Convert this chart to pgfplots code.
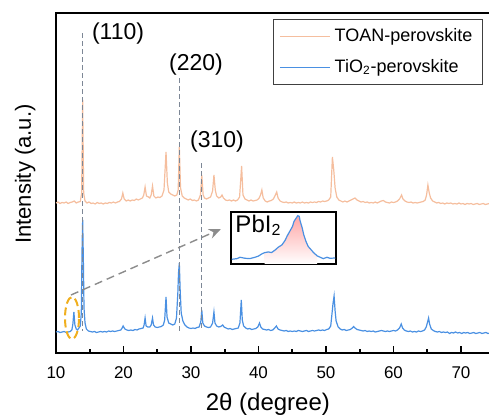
\documentclass[border=0pt]{standalone}
\usepackage{fontspec}
\setmainfont{Liberation Sans}
\usepackage{pgfplots}
\pgfplotsset{compat=1.18}
\usetikzlibrary{arrows.meta}
\definecolor{toan}{RGB}{245,190,158}
\definecolor{tio}{RGB}{74,144,226}
\definecolor{vgray}{RGB}{125,135,150}
\definecolor{agray}{RGB}{140,140,140}
\definecolor{ell}{RGB}{240,175,30}
\begin{document}
\begin{tikzpicture}
\begin{axis}[
  scale only axis, width=219.375pt, height=170pt,
  xmin=10, xmax=75, ymin=0, ymax=340,
  axis line style={line width=0.8pt},
  xtick={10,20,30,40,50,60,70}, minor x tick num=1,
  xtick pos=left, ytick=\empty,
  tick align=inside, major tick length=3.5pt, minor tick length=2pt,
  every tick/.style={black, line width=0.8pt},
  /pgf/number format/assume math mode=true,
  ticklabel style={font=\fontsize{8.5}{10}\selectfont},
  xticklabel style={yshift=-3.5pt},
  xlabel={2θ (degree)}, ylabel={Intensity (a.u.)},
  xlabel style={at={(axis description cs:0.483,-0.15)}, anchor=center, font=\fontsize{12}{14}\selectfont},
  ylabel style={at={(axis description cs:-0.07,0.526)}, anchor=center, rotate=0, font=\fontsize{11}{13}\selectfont},
  legend style={at={(axis description cs:0.973,0.982)}, anchor=north east, draw=black!75, line width=0.5pt,
    font=\fontsize{9}{10}\selectfont, cells={anchor=west}, row sep=3.5pt, inner xsep=3pt, inner ysep=2.5pt},
  legend image code/.code={\draw[#1, line width=0.7pt] (0pt,0pt) -- (25pt,0pt);},
]
\addplot[toan, line width=0.6pt] coordinates {
(10.0,150)(10.3,151)(10.6,149.5)(10.9,150.5)(11.2,150)(11.5,151)(11.8,149.5)(12.1,150.5)(12.4,151)(12.7,152)
(13.0,150)(13.3,151)(13.6,151.5)(13.8,160)(13.95,253)(14.1,160)(14.3,152)(14.6,150)(14.9,151)(15.2,149.5)
(15.5,150)(15.8,149)(16.1,150.5)(16.4,149.5)(16.7,150)(17.0,149)(17.3,150)(17.6,149.5)(17.9,150.5)(18.2,150)
(18.5,151)(18.8,150)(19.1,151)(19.4,151.5)(19.7,154)(19.9,160)(20.1,154)(20.4,152)(20.7,153)(21.0,152)
(21.3,153)(21.6,152.5)(21.9,154)(22.2,153)(22.5,154)(22.8,155)(23.0,158)(23.2,166)(23.4,157)(23.7,156)
(23.9,155)(24.1,158)(24.3,167)(24.5,157)(24.8,155)(25.1,156)(25.4,155.5)(25.7,157)(26.0,163)(26.3,201)
(26.5,170)(26.7,161)(27.0,159)(27.3,158)(27.6,157)(27.9,158)(28.1,163)(28.27,206)(28.45,165)(28.7,157)
(29.0,155)(29.3,154)(29.6,153)(29.9,154)(30.2,152.5)(30.5,153)(30.8,152)(31.1,153)(31.4,158)(31.6,178)
(31.8,158)(32.0,155)(32.3,154)(32.6,155)(32.9,156)(33.2,162)(33.4,178)(33.6,163)(33.8,157)(34.1,155)
(34.4,156)(34.6,158)(34.8,155)(35.1,153)(35.4,152.5)(35.7,153)(36.0,152)(36.3,153)(36.6,152)(36.9,153)
(37.2,156)(37.5,187)(37.7,158)(38.0,154)(38.3,153)(38.6,152)(38.9,153)(39.2,152)(39.5,152.5)(39.8,153)
(40.1,155)(40.3,158)(40.5,163)(40.7,155)(41.0,152)(41.3,151)(41.6,152)(41.9,152.5)(42.2,154)(42.5,158)
(42.7,161)(42.9,155)(43.2,152)(43.5,151)(43.8,150.5)(44.1,151)(44.4,150)(44.7,150.5)(45.0,150)(45.3,151)
(45.6,150)(45.9,150.5)(46.2,150)(46.5,151)(46.8,150)(47.1,150.5)(47.4,150)(47.7,151)(48.0,150.5)(48.3,151)
(48.6,150.5)(48.9,151.5)(49.2,151)(49.5,152)(49.8,151.5)(50.1,152)(50.4,153)(50.7,156)(50.95,196)(51.15,183)
(51.35,165)(51.6,156)(51.9,153)(52.2,152)(52.5,151)(52.8,152)(53.1,151)(53.4,152)(53.7,153)(54.0,154)
(54.3,155)(54.6,153)(54.9,152)(55.2,151)(55.5,151.5)(55.8,150.5)(56.1,151)(56.4,150)(56.7,150.5)(57.0,150)
(57.3,151)(57.6,150)(57.9,151)(58.2,152)(58.5,152.5)(58.8,151)(59.1,150.5)(59.4,150)(59.7,151)(60.0,150.5)
(60.3,151)(60.6,152)(60.9,154)(61.2,158)(61.4,154)(61.7,152)(62.0,151)(62.3,150.5)(62.6,151)(62.9,150)
(63.2,150.5)(63.5,150)(63.8,150.5)(64.1,151)(64.4,151.5)(64.7,153)(64.9,158)(65.1,168)(65.3,160)(65.5,155)
(65.8,152)(66.1,151)(66.4,150)(66.7,150.5)(67.0,149.5)(67.3,150)(67.6,149)(67.9,150)(68.2,149.5)(68.5,150)
(68.8,149)(69.1,149.5)(69.4,149)(69.7,150)(70.0,149)(70.3,149.5)(70.6,148.5)(70.9,149.5)(71.2,149)(71.5,149.5)
(71.8,148.5)(72.1,149)(72.4,149.5)(72.7,148.5)(73.0,149)(73.3,149.5)(73.6,148.5)(73.9,149)(74.2,149.5)(74.5,148.5)
(74.8,149)(75.0,149)
};
\addlegendentry{TOAN-perovskite}
\addplot[tio, line width=0.6pt] coordinates {
(10.0,21)(10.3,21.5)(10.6,20.5)(10.9,21)(11.2,21.5)(11.5,20.5)(11.8,21)(12.1,21.5)(12.35,23)(12.5,29)
(12.65,41)(12.8,28)(13.0,24)(13.2,23)(13.4,25)(13.6,27)(13.75,40)(13.85,100)(13.95,133)(14.05,95)
(14.15,45)(14.3,30)(14.5,24)(14.8,22)(15.1,21.5)(15.4,21)(15.7,21.5)(16.0,20.5)(16.3,21)(16.6,21.5)
(16.9,21)(17.2,21.5)(17.5,21)(17.8,22)(18.1,21.5)(18.4,22)(18.7,21.5)(19.0,22)(19.3,22.5)(19.6,23)
(19.8,25)(19.95,27)(20.2,24)(20.5,23)(20.8,22.5)(21.1,23)(21.4,22.5)(21.7,23.5)(22.0,23)(22.3,24)
(22.6,24.5)(22.9,25)(23.05,28)(23.2,35)(23.35,27)(23.6,26)(23.9,26)(24.1,28)(24.3,35)(24.45,28)
(24.7,26)(25.0,25.5)(25.3,26)(25.6,26.5)(25.9,28)(26.1,33)(26.3,56)(26.45,36)(26.7,30)(27.0,29)
(27.3,28)(27.6,29)(27.85,35)(28.05,60)(28.15,80)(28.27,90)(28.4,62)(28.55,40)(28.8,32)(29.1,28)
(29.4,26)(29.7,25)(30.0,24.5)(30.3,25)(30.6,24.5)(30.9,25.5)(31.2,26)(31.45,31)(31.6,43)(31.75,30)
(32.0,27)(32.3,26)(32.6,25.5)(32.9,26)(33.2,30)(33.4,41)(33.55,30)(33.8,27)(34.1,26)(34.4,26.5)
(34.7,28)(34.9,26)(35.2,25)(35.5,24)(35.8,24.5)(36.1,23.5)(36.4,24)(36.7,24.5)(37.0,25)(37.25,30)
(37.45,53)(37.6,33)(37.8,27)(38.1,25)(38.4,24)(38.7,24.5)(39.0,23.5)(39.3,24)(39.6,24.5)(39.9,26)
(40.15,30)(40.35,26)(40.6,24)(40.9,23.5)(41.2,23)(41.5,23.5)(41.8,22.5)(42.1,23)(42.4,25)(42.65,27)
(42.9,24)(43.2,23)(43.5,22.5)(43.8,22)(44.1,22.5)(44.4,21.5)(44.7,22)(45.0,21.5)(45.3,22)(45.6,21.5)
(45.9,22.5)(46.2,22)(46.5,21.5)(46.8,22)(47.1,22.5)(47.4,21.5)(47.7,22)(48.0,22.5)(48.3,22)(48.6,22.5)
(48.9,23)(49.2,22.5)(49.5,23)(49.8,22.5)(50.1,23.5)(50.4,24)(50.7,27)(50.9,40)(51.05,50)(51.2,57)
(51.35,42)(51.5,32)(51.8,26)(52.1,24)(52.4,23)(52.7,23.5)(53.0,22.5)(53.3,23)(53.6,23.5)(53.9,25)
(54.1,26.5)(54.3,25)(54.6,23.5)(54.9,23)(55.2,22.5)(55.5,22)(55.8,22.5)(56.1,21.5)(56.4,22)(56.7,21.5)
(57.0,22)(57.3,21)(57.6,21.5)(57.9,22)(58.2,22.5)(58.5,22)(58.8,21.5)(59.1,22)(59.4,21.5)(59.7,22)
(60.0,22.5)(60.3,22)(60.6,23)(60.9,25)(61.15,29)(61.35,25)(61.6,23)(61.9,22)(62.2,21.5)(62.5,22)
(62.8,21)(63.1,21.5)(63.4,21)(63.7,22)(64.0,21.5)(64.3,22)(64.6,23)(64.85,26)(65.05,31)(65.2,35)
(65.35,29)(65.6,24)(65.9,22.5)(66.2,21.5)(66.5,21)(66.8,21.5)(67.1,20.5)(67.4,21)(67.7,20.5)(68.0,21)
(68.3,19.5)(68.6,20.5)(68.9,20)(69.2,21)(69.5,20)(69.8,20.5)(70.1,19.5)(70.4,20.5)(70.7,20)(71.0,20.5)
(71.3,19.5)(71.6,20)(71.9,20.5)(72.2,19.5)(72.5,20)(72.8,20.5)(73.1,19.5)(73.4,20)(73.7,20.5)(74.0,19.5)
(74.3,20)(74.6,20.5)(75.0,20)
};
\addlegendentry{TiO\textsubscript{2}-perovskite}
% peak guide lines
\draw[vgray, line width=0.6pt, dash pattern=on 2.5pt off 1.5pt] (axis cs:13.95,320) -- (axis cs:13.95,22);
\draw[vgray, line width=0.6pt, dash pattern=on 2.5pt off 1.5pt] (axis cs:28.27,275) -- (axis cs:28.27,22);
\draw[vgray, line width=0.6pt, dash pattern=on 2.5pt off 1.5pt] (axis cs:31.6,190) -- (axis cs:31.6,22);
\node[font=\fontsize{11.5}{13}\selectfont] at (axis cs:19.19,319) {(110)};
\node[font=\fontsize{11.5}{13}\selectfont] at (axis cs:30.74,288) {(220)};
\node[font=\fontsize{11.5}{13}\selectfont] at (axis cs:33.85,211) {(310)};
% arrow and ellipse
\draw[agray, line width=0.7pt, dash pattern=on 4pt off 2.5pt, -{Stealth[length=6pt,width=5pt]}] (axis cs:12.22,58) -- (axis cs:34.44,124);
\draw[ell, line width=1pt, dash pattern=on 4pt off 2pt] (axis cs:12.37,35) ellipse [x radius=3.5pt, y radius=10.5pt];
\end{axis}
\begin{axis}[
  at={(87.5pt,44.5pt)}, anchor=south west,
  scale only axis, width=52.5pt, height=26pt,
  xmin=12, xmax=13.4, ymin=0, ymax=155,
  xtick={12.7}, xticklabels={}, ytick=\empty, xtick pos=left,
  tick align=inside, major tick length=2pt,
  every tick/.style={black!60, line width=0.5pt},
  axis line style={line width=0.6pt},
  axis background/.style={fill=white},
]
\addplot[draw=none, top color=red!35, bottom color=white] coordinates {
(12.45,34)(12.50,36)(12.54,34)(12.59,42)(12.63,50)(12.68,57)(12.72,70)(12.75,84)(12.79,100)(12.82,112)
(12.84,127)(12.87,137)(12.89,144)(12.91,142)(12.92,130)(12.95,107)(12.97,87)(13.00,67)(13.03,52)(13.07,42)
(13.10,34)(13.15,24)} \closedcycle;
\addplot[tio, line width=0.6pt] coordinates {
(12.01,14)(12.08,16)(12.12,20)(12.19,17)(12.25,16)(12.32,20)(12.37,24)(12.41,30)(12.45,34)(12.50,36)
(12.54,34)(12.59,42)(12.63,50)(12.68,57)(12.72,70)(12.75,84)(12.79,100)(12.82,112)(12.84,127)(12.87,137)
(12.89,144)(12.91,142)(12.92,130)(12.95,107)(12.97,87)(13.00,67)(13.03,52)(13.07,42)(13.10,34)(13.15,24)
(13.19,20)(13.23,16)(13.28,20)(13.32,17)(13.39,18)
};
\node[anchor=north west, inner sep=1pt, font=\fontsize{12}{13}\selectfont] at (rel axis cs:0.02,0.99) {PbI\textsubscript{2}};
\end{axis}
\pgfresetboundingbox
\useasboundingbox (-28pt,-32.5pt) rectangle (216.5pt,176.5pt);
\end{tikzpicture}
\end{document}
